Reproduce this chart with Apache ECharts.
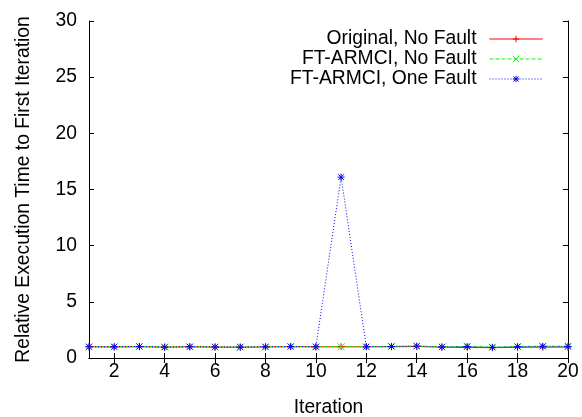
<!DOCTYPE html>
<html lang="en">
<head>
  <meta charset="UTF-8">
  <script src="https://cdn.jsdelivr.net/npm/echarts@6/dist/echarts.min.js"></script>
  <title>Relative Execution Time</title>
</head>
<body style="margin:0">
  <div id="chart" style="width: 582px; height: 417px"></div>
  <script>
    const iterations = [1, 2, 3, 4, 5, 6, 7, 8, 9, 10, 11, 12, 13, 14, 15, 16, 17, 18, 19, 20];
    const originalNoFault = [1.0, 0.98, 1.0, 0.97, 1.0, 0.97, 0.96, 0.99, 1.0, 1.0, 1.0, 1.0, 1.0, 1.02, 0.97, 0.93, 0.92, 0.95, 0.97, 0.97];
    const ftNoFault = [1.0, 1.0, 1.03, 0.98, 1.01, 0.98, 0.98, 1.0, 1.02, 1.0, 1.0, 1.0, 1.04, 1.06, 0.99, 1.03, 0.97, 1.02, 1.05, 1.04];
    const ftOneFault = [1.0, 1.0, 1.03, 0.96, 1.0, 0.98, 0.97, 0.99, 1.02, 1.0, 16.1, 1.0, 1.03, 1.06, 0.98, 1.02, 0.95, 1.01, 1.04, 1.03];
    const xTicks = [2, 4, 6, 8, 10, 12, 14, 16, 18, 20];

    const font = 'Liberation Sans, Arial, sans-serif';
    const fs = 19.3;

    const plusPath = 'path://M0,5L10,5M5,0L5,10';
    const crossPath = 'path://M0,0L10,10M0,10L10,0';
    const starPath = 'path://M0,5L10,5M5,0L5,10M1,1L9,9M1,9L9,1';

    function pairs(ys) {
      return iterations.map((x, i) => [x, ys[i]]);
    }

    function mkSeries(name, ys, color, type, symbol) {
      return {
        name: name,
        type: 'line',
        data: pairs(ys),
        symbol: symbol,
        symbolSize: 7,
        showSymbol: true,
        animation: false,
        lineStyle: { color: color, width: 1, type: type },
        itemStyle: { color: color, borderColor: color, borderWidth: 1 }
      };
    }

    const chart = echarts.init(document.getElementById('chart'));
    chart.setOption({
      backgroundColor: '#fff',
      animation: false,
      grid: { left: 89, right: 14, top: 21, bottom: 59, outerBoundsMode: 'none', containLabel: false },
      legend: {
        orient: 'vertical',
        align: 'right',
        right: 34,
        top: 24,
        itemWidth: 53,
        itemHeight: 8,
        itemGap: 0,
        itemStyle: { borderWidth: 1 },
        lineStyle: { width: 1 },
        textStyle: { fontFamily: font, fontSize: fs, color: '#000', lineHeight: 20, padding: [0, 8, 0, 0] },
        data: ['Original, No Fault', 'FT-ARMCI, No Fault', 'FT-ARMCI, One Fault']
      },
      xAxis: [
        {
          type: 'value',
          min: 1,
          max: 20,
          name: 'Iteration',
          nameLocation: 'middle',
          nameGap: 40,
          nameTextStyle: { fontFamily: font, fontSize: fs, color: '#000' },
          axisLine: { lineStyle: { color: '#000', width: 1 } },
          axisTick: { inside: true, length: 5, customValues: xTicks, lineStyle: { color: '#000' } },
          axisLabel: { customValues: xTicks, margin: 4, fontFamily: font, fontSize: fs, color: '#000' },
          splitLine: { show: false }
        },
        {
          type: 'value',
          position: 'top',
          min: 1,
          max: 20,
          axisLine: { lineStyle: { color: '#000', width: 1 } },
          axisTick: { inside: true, length: 5, customValues: xTicks, lineStyle: { color: '#000' } },
          axisLabel: { show: false },
          splitLine: { show: false }
        }
      ],
      yAxis: [
        {
          type: 'value',
          min: 0,
          max: 30,
          interval: 5,
          name: 'Relative Execution Time to First Iteration',
          nameLocation: 'middle',
          nameGap: 56,
          nameTextStyle: { fontFamily: font, fontSize: fs, color: '#000' },
          axisLine: { show: true, lineStyle: { color: '#000', width: 1 } },
          axisTick: { show: true, inside: true, length: 5, lineStyle: { color: '#000' } },
          axisLabel: { margin: 12, fontFamily: font, fontSize: fs, color: '#000' },
          splitLine: { show: false }
        },
        {
          type: 'value',
          position: 'right',
          min: 0,
          max: 30,
          interval: 5,
          axisLine: { show: true, lineStyle: { color: '#000', width: 1 } },
          axisTick: { show: true, inside: true, length: 5, lineStyle: { color: '#000' } },
          axisLabel: { show: false },
          splitLine: { show: false }
        }
      ],
      series: [
        mkSeries('Original, No Fault', originalNoFault, '#ff0000', 'solid', plusPath),
        mkSeries('FT-ARMCI, No Fault', ftNoFault, '#00ff00', [4, 2], crossPath),
        mkSeries('FT-ARMCI, One Fault', ftOneFault, '#0000ff', [1, 2], starPath)
      ]
    });
  </script>
</body>
</html>
